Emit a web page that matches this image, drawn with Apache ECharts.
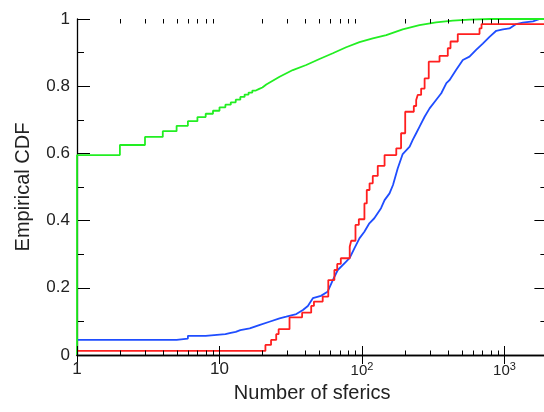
<!DOCTYPE html>
<html>
<head>
<meta charset="utf-8">
<script src="https://cdn.jsdelivr.net/npm/echarts@6/dist/echarts.min.js"></script>
<style>
  html, body { margin: 0; padding: 0; background: #fff; }
  #main { width: 544px; height: 412px; }
</style>
</head>
<body>
<div id="main"></div>
<script>
// values: [number of sferics, cdf]
const greenCdf = [
  [1, 0], [1, 0.595], [2, 0.595], [2, 0.625], [3, 0.625], [3, 0.649], [4, 0.649], [4, 0.666],
  [5, 0.666], [5, 0.682], [6, 0.682], [6, 0.696], [7, 0.696], [7, 0.708], [8, 0.708], [8, 0.718],
  [9, 0.718], [9, 0.727], [10, 0.727], [10, 0.737], [11, 0.737], [11, 0.745], [12, 0.745],
  [12, 0.752], [13, 0.752], [13, 0.76], [14, 0.76], [14, 0.768], [15, 0.768], [15, 0.775],
  [16, 0.775], [16, 0.781], [17, 0.781], [17, 0.787], [18, 0.787], [18, 0.792], [19, 0.792],
  [19, 0.796], [20, 0.796], [20, 0.8],
  [21.3, 0.805], [26.4, 0.828], [32.7, 0.848], [40.6, 0.863],
  [50.3, 0.881], [62.4, 0.898], [77.4, 0.916], [96, 0.931], [119, 0.942], [148, 0.952],
  [193, 0.969], [253, 0.982], [331, 0.99], [434, 0.995], [568, 0.998], [800, 1], [2000, 1]
];
const redCdf = [
  [1, 0.012], [21, 0.03], [23, 0.045], [25, 0.062], [26, 0.077], [31, 0.112], [38, 0.126],
  [44, 0.146], [46, 0.159], [53, 0.174], [58, 0.223], [64, 0.253], [67, 0.271], [71, 0.288],
  [82, 0.322], [84, 0.34], [90, 0.387], [95, 0.404], [104, 0.451], [108, 0.491], [113, 0.511],
  [119, 0.533], [129, 0.563], [144, 0.595], [174, 0.615], [188, 0.66], [201, 0.724],
  [231, 0.741], [240, 0.759], [246, 0.774], [260, 0.793], [275, 0.823], [294, 0.873],
  [350, 0.89], [400, 0.913], [418, 0.933], [470, 0.955], [668, 0.972], [690, 0.985], [2000, 0.985]
];
const blueCdf = [
  [1, 0.045], [5, 0.045], [5, 0.049], [6, 0.049], [6, 0.057], [8, 0.057], [8, 0.062],
  [11, 0.062], [11, 0.066], [12, 0.066], [12, 0.069], [13, 0.069], [13, 0.074], [14, 0.074],
  [16.3, 0.079], [19, 0.089], [22.4, 0.099], [26.4, 0.109], [29.4, 0.114], [34.6, 0.122],
  [38.5, 0.134], [41.7, 0.146], [45.2, 0.169], [51.5, 0.176], [57.3, 0.188], [62.4, 0.223],
  [67.6, 0.253], [77.4, 0.278], [81.7, 0.288], [88.6, 0.318], [95.9, 0.347], [103.9, 0.367],
  [112.6, 0.392], [122, 0.407], [136, 0.437], [144, 0.461], [156, 0.481], [165, 0.506],
  [178, 0.555], [193, 0.598], [216, 0.62], [227, 0.64], [240, 0.66], [253, 0.679],
  [275, 0.709], [298, 0.734], [331, 0.759], [360, 0.779], [391, 0.809], [411, 0.818],
  [457, 0.848], [510, 0.878], [568, 0.888], [632, 0.908], [704, 0.927], [785, 0.947],
  [875, 0.965], [975, 0.969], [1084, 0.972], [1208, 0.985], [1344, 0.989], [1585, 0.993],
  [1767, 1], [2000, 1]
];
const xTickValues = [1, 10, 100, 1000];
const xTickLabels = ['{n|1}', '{n|10}', '{b|10}{s|2}', '{b|10}{s|3}'];
const xMin = 1;
const xMax = 2000;

const FONT = '"Liberation Sans", Arial, Helvetica, sans-serif';
const TXT = '#222';

const chart = echarts.init(document.getElementById('main'), null, { renderer: 'canvas' });

// x tick label, only at the decades
function xLabel(v) {
  const p = Math.log10(v);
  const i = xTickValues.findIndex(t => Math.abs(Math.log10(t) - p) < 1e-6);
  return i < 0 ? '' : xTickLabels[i];
}

// x axes sit on top of the lines (ticks cross the red line), y axes under them
const xAxisBase = {
  type: 'log',
  logBase: 10,
  min: xMin,
  max: xMax,
  z: 5,
  axisLine: { show: true, lineStyle: { color: '#000', width: 1.3 } },
  axisTick: { show: true, inside: true, length: 9, lineStyle: { color: '#000', width: 1 } },
  splitLine: { show: false },
  minorTick: { show: false }
};
const yAxisBase = {
  type: 'value',
  min: 0,
  max: 1,
  interval: 0.2,
  axisLine: { show: true, lineStyle: { color: '#000', width: 1.3 } },
  axisTick: { show: true, inside: true, length: 13, lineStyle: { color: '#000', width: 1 } },
  minorTick: { show: true, splitNumber: 2, length: 7, lineStyle: { color: '#000', width: 1 } },
  splitLine: { show: false }
};

chart.setOption({
  animation: false,
  textStyle: { fontFamily: FONT },
  grid: { left: 77, right: -3.4, top: 19, bottom: 57, outerBoundsMode: 'none' },
  xAxis: [
    Object.assign({}, xAxisBase, {
      position: 'bottom',
      name: 'Number of sferics',
      nameLocation: 'middle',
      nameGap: 28,
      nameTextStyle: { fontSize: 20, color: TXT, fontFamily: FONT },
      axisLabel: {
        margin: 6,
        color: TXT,
        fontFamily: FONT,
        showMaxLabel: false,
        formatter: xLabel,
        rich: {
          n: { fontSize: 17, color: TXT, fontFamily: FONT },
          b: { fontSize: 15, color: TXT, fontFamily: FONT },
          s: { fontSize: 11, color: TXT, fontFamily: FONT, padding: [0, 0, 9, 0] }
        }
      }
    }),
    Object.assign({}, xAxisBase, { position: 'top', axisLabel: { show: false } })
  ],
  yAxis: [
    Object.assign({}, yAxisBase, {
      position: 'left',
      name: 'Empirical CDF',
      nameLocation: 'middle',
      nameGap: 44,
      nameTextStyle: { fontSize: 20, color: TXT, fontFamily: FONT },
      axisLabel: { fontSize: 17, color: TXT, fontFamily: FONT, margin: 7 }
    }),
    Object.assign({}, yAxisBase, { position: 'right', axisLabel: { show: false } })
  ],
  series: [
    {
      name: 'blue',
      type: 'line',
      data: blueCdf,
      showSymbol: false,
      clip: false,
      lineStyle: { color: '#1f4dff', width: 1.8 }
    },
    {
      name: 'red',
      type: 'line',
      step: 'end',
      data: redCdf,
      showSymbol: false,
      clip: false,
      lineStyle: { color: '#ff1f1f', width: 1.8 }
    },
    {
      name: 'green',
      type: 'line',
      data: greenCdf,
      showSymbol: false,
      clip: false,
      lineStyle: { color: '#22ee22', width: 1.8 }
    }
  ]
});

// minor ticks of the log axis (2..9 in every decade), on bottom and top
const minorTicks = [];
const yBottom = chart.convertToPixel({ yAxisIndex: 0 }, 0);
const yTop = chart.convertToPixel({ yAxisIndex: 0 }, 1);
xTickValues.forEach(d => {
  for (let m = 2; m <= 9; m++) {
    const v = m * d;
    if (v > xMax) continue;
    const px = Math.round(chart.convertToPixel({ xAxisIndex: 0 }, v)) + 0.5;
    minorTicks.push({
      type: 'line', silent: true, z: 10,
      shape: { x1: px, y1: yBottom, x2: px, y2: yBottom - 4.5 },
      style: { stroke: '#000', lineWidth: 1 }
    });
    minorTicks.push({
      type: 'line', silent: true, z: 10,
      shape: { x1: px, y1: yTop, x2: px, y2: yTop + 4.5 },
      style: { stroke: '#000', lineWidth: 1 }
    });
  }
});
chart.setOption({ graphic: minorTicks });
</script>
</body>
</html>
